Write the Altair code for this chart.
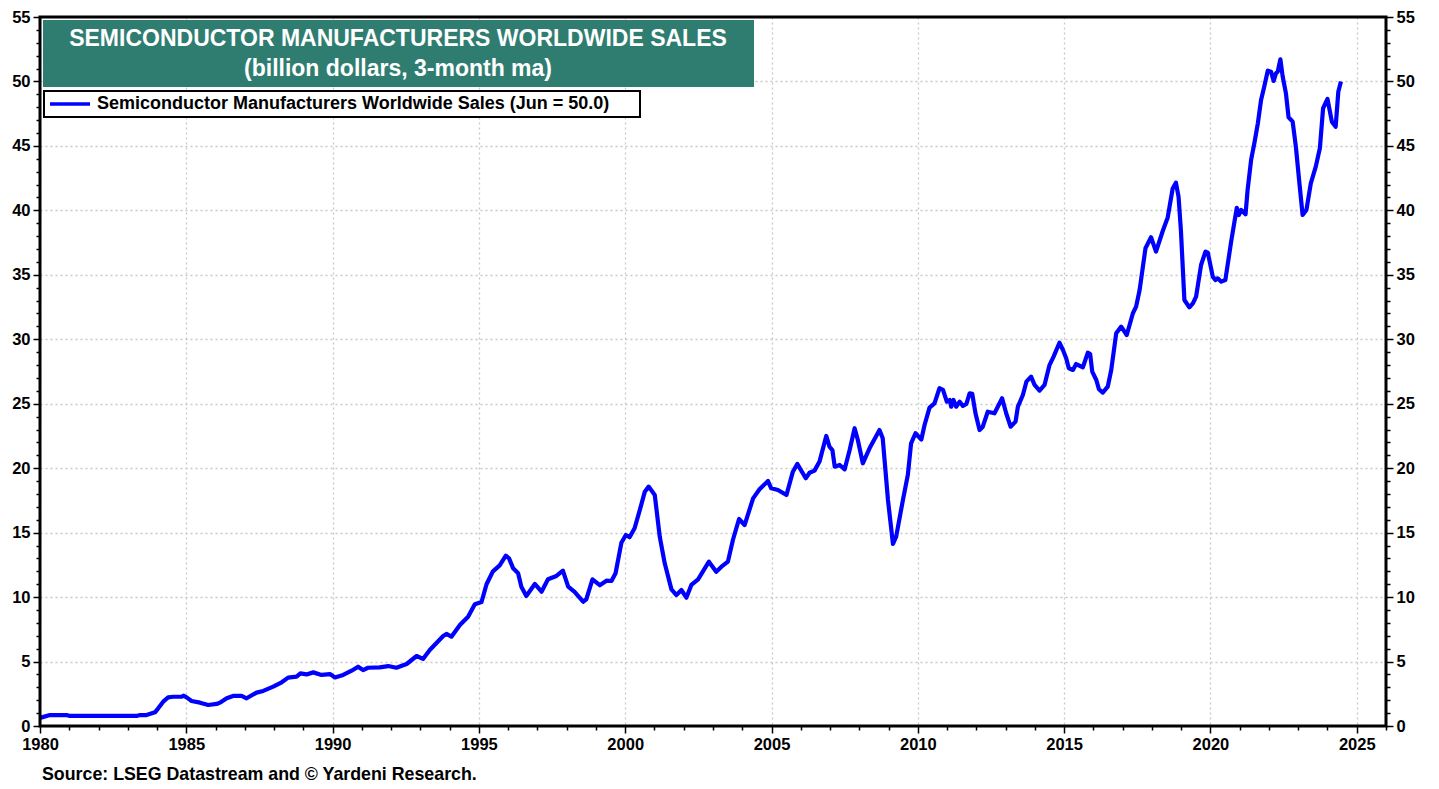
import altair as alt
import pandas as pd

# Semiconductor sales, billion dollars (3-month ma)
years = [
    1980.0, 1980.06, 1980.34, 1980.91, 1981.02, 1983.3, 1983.42, 1983.64, 1983.93, 1984.04,
    1984.21, 1984.38, 1984.55, 1984.84, 1984.9, 1985.01, 1985.18, 1985.47, 1985.75, 1986.04,
    1986.15, 1986.38, 1986.6, 1986.89, 1987.06, 1987.4, 1987.63, 1987.97, 1988.26, 1988.48,
    1988.77, 1988.9, 1989.11, 1989.34, 1989.62, 1989.91, 1990.08, 1990.36, 1990.65, 1990.87,
    1991.04, 1991.21, 1991.61, 1991.9, 1992.18, 1992.53, 1992.87, 1993.09, 1993.32, 1993.78,
    1993.89, 1994.06, 1994.35, 1994.63, 1994.86, 1995.09, 1995.26, 1995.48, 1995.71, 1995.92,
    1996.03, 1996.17, 1996.34, 1996.45, 1996.62, 1996.91, 1997.14, 1997.36, 1997.65, 1997.87,
    1998.05, 1998.27, 1998.56, 1998.67, 1998.88, 1999.13, 1999.36, 1999.53, 1999.67, 1999.87,
    2000.02, 2000.15, 2000.32, 2000.5, 2000.67, 2000.8, 2001.01, 2001.18, 2001.35, 2001.58,
    2001.75, 2001.92, 2002.09, 2002.26, 2002.49, 2002.86, 2003.11, 2003.29, 2003.51, 2003.68,
    2003.89, 2004.08, 2004.37, 2004.59, 2004.88, 2004.99, 2005.22, 2005.51, 2005.73, 2005.88,
    2006.17, 2006.3, 2006.47, 2006.64, 2006.87, 2006.98, 2007.08, 2007.16, 2007.33, 2007.5,
    2007.67, 2007.84, 2007.95, 2008.12, 2008.35, 2008.69, 2008.8, 2008.98, 2009.15, 2009.26,
    2009.49, 2009.66, 2009.77, 2009.92, 2010.12, 2010.23, 2010.4, 2010.57, 2010.74, 2010.86,
    2010.99, 2011.09, 2011.14, 2011.22, 2011.31, 2011.43, 2011.54, 2011.66, 2011.77, 2011.86,
    2011.97, 2012.11, 2012.22, 2012.39, 2012.62, 2012.88, 2013.02, 2013.17, 2013.34, 2013.42,
    2013.59, 2013.71, 2013.87, 2013.99, 2014.16, 2014.33, 2014.5, 2014.64, 2014.84, 2014.96,
    2015.07, 2015.16, 2015.3, 2015.41, 2015.64, 2015.81, 2015.89, 2015.96, 2016.1, 2016.19,
    2016.32, 2016.49, 2016.61, 2016.78, 2016.95, 2017.14, 2017.35, 2017.46, 2017.58, 2017.78,
    2017.97, 2018.14, 2018.37, 2018.54, 2018.71, 2018.82, 2018.91, 2018.99, 2019.11, 2019.28,
    2019.4, 2019.51, 2019.68, 2019.83, 2019.91, 2020.08, 2020.17, 2020.25, 2020.37, 2020.51,
    2020.71, 2020.9, 2020.97, 2021.05, 2021.2, 2021.27, 2021.39, 2021.5, 2021.62, 2021.73,
    2021.84, 2021.96, 2022.07, 2022.16, 2022.24, 2022.3, 2022.39, 2022.47, 2022.58, 2022.67,
    2022.81, 2022.92, 2023.03, 2023.15, 2023.28, 2023.43, 2023.6, 2023.74, 2023.85, 2024.0,
    2024.15, 2024.28, 2024.37, 2024.46,
]
sales = [
    0.62, 0.67, 0.85, 0.85, 0.78, 0.78, 0.85, 0.85, 1.06, 1.37,
    1.89, 2.22, 2.27, 2.27, 2.35, 2.22, 1.94, 1.81, 1.63, 1.71,
    1.81, 2.15, 2.33, 2.33, 2.15, 2.59, 2.72, 3.05, 3.39, 3.75,
    3.83, 4.08, 4.0, 4.16, 3.96, 4.03, 3.77, 3.96, 4.29, 4.6,
    4.34, 4.52, 4.55, 4.65, 4.52, 4.81, 5.43, 5.2, 5.9, 6.98,
    7.14, 6.93, 7.84, 8.48, 9.45, 9.62, 11.0, 12.0, 12.46, 13.21,
    13.0, 12.23, 11.85, 10.81, 10.09, 11.02, 10.42, 11.38, 11.64, 12.05,
    10.81, 10.4, 9.64, 9.83, 11.38, 10.92, 11.27, 11.25, 11.85, 14.22,
    14.82, 14.64, 15.34, 16.76, 18.18, 18.57, 17.92, 14.69, 12.62, 10.6,
    10.16, 10.55, 9.95, 10.94, 11.38, 12.75, 11.97, 12.36, 12.75, 14.43,
    16.06, 15.59, 17.66, 18.36, 19.0, 18.44, 18.31, 17.92, 19.73, 20.33,
    19.22, 19.65, 19.81, 20.51, 22.5, 21.67, 21.41, 20.12, 20.25, 19.91,
    21.41, 23.1, 22.19, 20.38, 21.54, 22.96, 22.32, 17.53, 14.12, 14.69,
    17.53, 19.5, 21.93, 22.71, 22.22, 23.35, 24.7, 25.03, 26.2, 26.07,
    25.16, 25.29, 24.77, 25.29, 24.77, 25.16, 24.83, 24.98, 25.8, 25.76,
    24.26, 22.96, 23.22, 24.38, 24.26, 25.42, 24.26, 23.22, 23.61, 24.77,
    25.68, 26.71, 27.1, 26.46, 26.02, 26.46, 28.0, 28.65, 29.73, 29.17,
    28.53, 27.75, 27.62, 28.08, 27.83, 28.96, 28.86, 27.49, 26.84, 26.12,
    25.86, 26.32, 27.62, 30.47, 30.98, 30.33, 32.02, 32.53, 33.82, 37.06,
    37.91, 36.8, 38.4, 39.45, 41.7, 42.15, 41.06, 38.48, 33.05, 32.48,
    32.79, 33.31, 35.76, 36.8, 36.72, 34.86, 34.6, 34.73, 34.47, 34.6,
    37.6, 40.2, 39.64, 40.03, 39.7, 41.58, 43.91, 45.2, 46.75, 48.56,
    49.6, 50.84, 50.76, 50.04, 50.63, 50.76, 51.72, 50.37, 49.08, 47.22,
    46.88, 44.94, 42.36, 39.64, 40.03, 42.1, 43.39, 44.82, 47.92, 48.64,
    46.88, 46.49, 49.2, 50.0,
]

title_lines = ["SEMICONDUCTOR MANUFACTURERS WORLDWIDE SALES", "(billion dollars, 3-month ma)"]
legend_label = "Semiconductor Manufacturers Worldwide Sales (Jun = 50.0)"
source_text = "Source: LSEG Datastream and \u00a9 Yardeni Research."
x_ticks = list(range(1980, 2027))
y_ticks = list(range(0, 56))

df = pd.DataFrame({"year": years, "sales": sales})

W, H = 1346, 709
FONT = "Liberation Sans"
BLUE = "#0000FF"
TEAL = "#2F7D71"
LBL = 16.5


def cond5(a, b):
    return {"condition": {"test": "datum.value % 5 === 0", "value": a}, "value": b}


x_scale = alt.Scale(domain=[1980, 2026], nice=False, zero=False)
y_scale = alt.Scale(domain=[0, 55], nice=False)

x_axis = alt.Axis(
    values=x_ticks, title=None, orient="bottom",
    labelExpr="datum.value % 5 === 0 ? datum.label : ''",
    format="d", labelFont=FONT, labelFontWeight="bold", labelFontSize=LBL,
    labelColor="black", labelPadding=3, labelFlush=False, labelOverlap=False,
    tickColor="black", tickWidth=1.5, tickSize=cond5(7, 4),
    domain=False,
    grid=True, gridColor="#c8c8c8", gridDash=[2, 3], gridWidth=1.3,
    gridOpacity=cond5(1, 0),
)


def y_axis(orient, grid):
    return alt.Axis(
        values=y_ticks, title=None, orient=orient,
        labelExpr="datum.value % 5 === 0 ? datum.label : ''",
        labelFont=FONT, labelFontWeight="bold", labelFontSize=LBL,
        labelColor="black", labelPadding=3, labelOverlap=False,
        tickColor="black", tickWidth=1.5, tickSize=cond5(7, 4),
        domain=False,
        grid=grid, gridColor="#c8c8c8", gridDash=[2, 3], gridWidth=1.3,
        gridOpacity=cond5(1, 0),
    )


line = alt.Chart(df).mark_line(color=BLUE, strokeWidth=4.2, strokeJoin="round").encode(
    x=alt.X("year:Q", scale=x_scale, axis=x_axis),
    y=alt.Y("sales:Q", scale=y_scale, axis=y_axis("left", True)),
)

right = alt.Chart(df).mark_line(opacity=0).encode(
    x=alt.X("year:Q", scale=x_scale, axis=x_axis),
    y=alt.Y("sales:Q", scale=y_scale, axis=y_axis("right", False)),
)

one = pd.DataFrame({"k": [0]})

frame = alt.Chart(one).mark_rect(fill=None, fillOpacity=0, stroke="black", strokeWidth=3).encode(
    x=alt.value(0), x2=alt.value(W), y=alt.value(0), y2=alt.value(H)
)

title_box = alt.Chart(one).mark_rect(color=TEAL).encode(
    x=alt.value(3), x2=alt.value(714), y=alt.value(3), y2=alt.value(70)
)
title_df = pd.DataFrame({"t": title_lines, "yy": [29, 59]})
title_text = alt.Chart(title_df).mark_text(
    color="white", font=FONT, fontWeight="bold", fontSize=23, align="center", baseline="alphabetic"
).encode(x=alt.value(358), y=alt.Y("yy:Q", scale=None), text="t:N")

legend_box = alt.Chart(one).mark_rect(fill="white", stroke="black", strokeWidth=2).encode(
    x=alt.value(4), x2=alt.value(600), y=alt.value(74), y2=alt.value(100)
)
legend_line = alt.Chart(one).mark_rule(color=BLUE, strokeWidth=3.5).encode(
    x=alt.value(10), x2=alt.value(50), y=alt.value(87)
)
legend_text = alt.Chart(pd.DataFrame({"t": [legend_label]})).mark_text(
    color="black", font=FONT, fontWeight="bold", fontSize=18, align="left", baseline="middle"
).encode(x=alt.value(57), y=alt.value(87), text="t:N")

source = alt.Chart(pd.DataFrame({"t": [source_text]})).mark_text(
    color="black", font=FONT, fontWeight="bold", fontSize=17.8, align="left", baseline="middle"
).encode(x=alt.value(2), y=alt.value(758), text="t:N")

chart = alt.layer(
    line, right, frame, title_box, title_text, legend_box, legend_line, legend_text, source
).resolve_scale(y="independent").properties(
    width=W, height=H,
    autosize=alt.AutoSizeParams(type="none"),
    padding={"left": 32, "top": 9, "right": 45, "bottom": 60},
    background="white",
).configure_view(stroke=None)

chart.save("out.html", embed_options={"renderer": "svg", "actions": False})
